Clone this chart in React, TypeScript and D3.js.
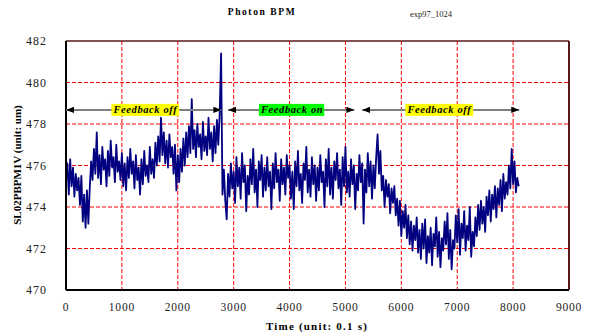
//@ts-nocheck
import React, {useEffect, useRef} from 'react';
import * as d3 from 'd3';

// sampling interval of the trace (unit: 0.1 s)
const sampleStep = 25;

// SL02PBPM1V readings, every 25 time units from t = 0
const bpmValues = [
    475.2, 476.1, 474.6, 476.3, 475.0, 475.9, 474.5, 475.6, 474.8, 475.4, 474.1, 475.5, 473.3, 474.6, 473.0, 474.8,
    473.2, 474.9, 476.2, 475.3, 476.8, 475.6, 477.6, 475.4, 476.5, 475.1, 476.9, 475.8, 476.3, 475.0, 476.7, 475.5,
    477.2, 475.9, 476.4, 475.2, 477.0, 475.7, 476.2, 475.3, 476.6, 475.0, 476.1, 474.8, 476.4, 475.4, 476.8, 475.6,
    476.2, 474.9, 476.5, 475.3, 475.9, 474.6, 476.3, 475.1, 476.7, 475.5, 476.0, 475.2, 476.9, 475.6, 476.3, 475.4,
    477.1, 476.0, 477.4, 476.2, 478.3, 476.5, 477.6, 476.1, 477.2, 475.9, 477.5, 476.4, 476.9, 475.6, 477.0, 474.8,
    476.5, 475.2, 476.8, 475.7, 477.3, 476.0, 477.6, 476.4, 477.9, 476.6, 479.2, 476.8, 477.7, 476.4, 478.0, 476.9,
    477.5, 476.3, 478.1, 476.7, 477.4, 476.5, 478.3, 476.8, 477.6, 476.2, 477.9, 476.6, 478.2, 477.0, 478.5, 481.4,
    474.6, 475.8, 474.3, 473.4, 475.6, 474.5, 476.1, 474.9, 475.7, 474.2, 476.4, 475.0, 475.9, 474.4, 476.6, 475.2,
    476.0, 473.8, 475.5, 474.6, 476.3, 475.1, 476.8, 474.7, 475.8, 474.0, 476.2, 475.3, 476.5, 474.5, 475.9, 474.8,
    476.4, 475.0, 475.7, 473.9, 476.1, 474.9, 476.6, 475.2, 475.8, 474.3, 476.3, 475.1, 475.9, 474.6, 476.5, 475.4,
    476.0, 474.4, 475.7, 473.9, 476.2, 475.0, 476.7, 474.8, 475.6, 474.2, 476.1, 475.3, 476.9, 474.7, 475.8, 474.5,
    476.4, 475.1, 476.0, 474.3, 475.9, 474.8, 476.5, 475.2, 475.7, 474.0, 476.3, 475.0, 476.8, 474.6, 475.9, 474.4,
    476.2, 475.3, 476.6, 474.9, 475.8, 474.1, 476.4, 475.0, 476.9, 474.7, 475.7, 474.5, 476.3, 475.1, 476.0, 473.9,
    475.6, 474.8, 476.5, 475.2, 476.1, 473.2, 475.8, 474.7, 476.6, 475.0, 476.2, 474.4, 476.0, 474.9, 476.4, 477.5,
    475.6, 476.7, 474.8, 475.5, 474.0, 475.3, 474.5, 475.1, 473.7, 474.9, 474.2, 475.0, 473.6, 474.4, 473.1, 474.3,
    472.6, 473.8, 473.0, 474.1, 472.5, 473.6, 472.2, 473.3, 471.9, 473.1, 472.4, 473.5, 471.8, 472.9, 471.5, 473.2,
    472.0, 473.4, 471.3, 472.6, 471.8, 473.0, 471.2, 472.7, 472.1, 473.5, 471.6, 472.8, 471.1, 472.5, 471.9, 473.3,
    472.2, 473.7, 471.5, 472.9, 471.0, 472.4, 472.0, 473.6, 472.3, 473.9, 471.7, 473.2, 472.5, 473.8, 471.9, 473.1,
    472.4, 474.0, 471.6, 472.8, 472.1, 473.5, 472.6, 474.1, 472.9, 474.3, 473.2, 474.0, 472.8, 474.5, 473.6, 474.8,
    473.3, 474.6, 473.9, 475.0, 473.5, 474.9, 474.1, 475.3, 473.8, 475.6, 474.4, 475.2, 474.6, 476.0, 474.9, 476.8,
    475.1, 476.2, 474.7, 475.4, 475.0
];

const xTicks = [0, 1000, 2000, 3000, 4000, 5000, 6000, 7000, 8000, 9000];
const yTicks = [470, 472, 474, 476, 478, 480, 482];

// feedback periods: start / end time, label position and colour
const periodStarts = [0, 2900, 5300];
const periodEnds = [2780, 5160, 8110];
const periodLabels = ['Feedback off', 'Feedback on', 'Feedback off'];
const periodLabelAt = [1420, 4045, 6680];
const periodColors = ['#ffff00', '#00ff00', '#ffff00'];
const annotationLevel = 478.68;

const PhotonBpmChart = () => {
    const svgRef = useRef(null);

    useEffect(() => {
        const svg = d3.select(svgRef.current);
        svg.selectAll('*').remove();

        const margin = {top: 41, right: 23, bottom: 46, left: 66};
        const width = 592 - margin.left - margin.right;
        const height = 336 - margin.top - margin.bottom;

        const x = d3.scaleLinear().domain([0, 9000]).range([0, width]);
        const y = d3.scaleLinear().domain([470, 482]).range([height, 0]);

        svg.append('rect').attr('width', 592).attr('height', 336).attr('fill', '#fff');

        svg.append('text')
            .attr('x', 262).attr('y', 15)
            .attr('text-anchor', 'middle')
            .attr('font-family', '"Liberation Serif", serif')
            .attr('font-weight', 'bold')
            .attr('font-size', '9.5px')
            .attr('letter-spacing', '1.6px')
            .text('Photon BPM');

        svg.append('text')
            .attr('x', 410).attr('y', 17)
            .attr('font-family', '"Liberation Serif", serif')
            .attr('font-size', '8.5px')
            .attr('fill', '#222')
            .text('exp97_1024');

        const g = svg.append('g')
            .attr('transform', 'translate(' + margin.left + ',' + margin.top + ')');

        // grid
        g.selectAll('line.hgrid')
            .data(yTicks.slice(1, -1))
            .enter().append('line')
            .attr('x1', 0).attr('x2', width)
            .attr('y1', d => y(d)).attr('y2', d => y(d))
            .attr('stroke', '#ff0000')
            .attr('stroke-dasharray', '4,2');
        g.selectAll('line.vgrid')
            .data(xTicks.slice(1, -1))
            .enter().append('line')
            .attr('y1', 0).attr('y2', height)
            .attr('x1', d => x(d)).attr('x2', d => x(d))
            .attr('stroke', '#ff0000')
            .attr('stroke-dasharray', '4,2');

        // frame
        g.append('line').attr('x1', 0).attr('x2', width).attr('y1', 0).attr('y2', 0)
            .attr('stroke', '#5a1a1a').attr('stroke-width', 1.5);
        g.append('line').attr('x1', width).attr('x2', width).attr('y1', 0).attr('y2', height)
            .attr('stroke', '#5a1a1a').attr('stroke-width', 2);

        // trace
        const line = d3.line()
            .x((d, i) => x(i * sampleStep))
            .y(d => y(d));
        g.append('path')
            .datum(bpmValues)
            .attr('fill', 'none')
            .attr('stroke', '#000080')
            .attr('stroke-width', 1.8)
            .attr('stroke-linejoin', 'round')
            .attr('d', line);

        // left / bottom axes
        g.append('line').attr('x1', 0).attr('x2', 0).attr('y1', 0).attr('y2', height)
            .attr('stroke', '#000').attr('stroke-width', 2);
        g.append('line').attr('x1', 0).attr('x2', width).attr('y1', height).attr('y2', height)
            .attr('stroke', '#000').attr('stroke-width', 2);

        g.selectAll('text.ytick')
            .data(yTicks)
            .enter().append('text')
            .attr('x', -19)
            .attr('y', d => y(d))
            .attr('dy', '0.35em')
            .attr('text-anchor', 'end')
            .attr('font-family', '"Liberation Serif", serif')
            .attr('font-size', '12px')
            .attr('letter-spacing', '1px')
            .attr('fill', '#222')
            .text(d => d);

        g.selectAll('text.xtick')
            .data(xTicks)
            .enter().append('text')
            .attr('x', d => x(d))
            .attr('y', height + 21)
            .attr('text-anchor', 'middle')
            .attr('font-family', '"Liberation Serif", serif')
            .attr('font-size', '11.5px')
            .attr('letter-spacing', '0.8px')
            .attr('fill', '#222')
            .text(d => d);

        svg.append('text')
            .attr('x', 317).attr('y', 330)
            .attr('text-anchor', 'middle')
            .attr('font-family', '"Liberation Serif", serif')
            .attr('font-weight', 'bold')
            .attr('font-size', '11px')
            .attr('letter-spacing', '1.2px')
            .text('Time (unit: 0.1 s)');

        svg.append('text')
            .attr('transform', 'translate(21,165)rotate(-90)')
            .attr('text-anchor', 'middle')
            .attr('font-family', '"Liberation Serif", serif')
            .attr('font-weight', 'bold')
            .attr('font-size', '11px')
            .text('SL02PBPM1V (unit: um)');

        // feedback annotation arrows
        const defs = svg.append('defs');
        defs.append('marker')
            .attr('id', 'arrowEnd')
            .attr('viewBox', '0 0 10 10')
            .attr('refX', 10).attr('refY', 5)
            .attr('markerWidth', 4).attr('markerHeight', 4)
            .attr('markerUnits', 'strokeWidth')
            .attr('orient', 'auto-start-reverse')
            .append('path').attr('d', 'M0,1L10,5L0,9Z').attr('fill', '#000');

        const ay = y(annotationLevel);
        const periods = periodStarts.map((s, i) => ({
            start: s, end: periodEnds[i], label: periodLabels[i], at: periodLabelAt[i], color: periodColors[i]
        }));
        g.selectAll('line.period')
            .data(periods)
            .enter().append('line')
            .attr('x1', d => x(d.start)).attr('x2', d => x(d.end))
            .attr('y1', ay).attr('y2', ay)
            .attr('stroke', '#7f7f7f')
            .attr('stroke-width', 2)
            .attr('marker-start', 'url(#arrowEnd)')
            .attr('marker-end', 'url(#arrowEnd)');

        const labels = g.selectAll('g.plabel')
            .data(periods)
            .enter().append('g')
            .attr('transform', d => 'translate(' + x(d.at) + ',' + ay + ')');
        labels.append('text')
            .attr('text-anchor', 'middle')
            .attr('dy', '0.33em')
            .attr('font-family', '"Liberation Serif", serif')
            .attr('font-weight', 'bold')
            .attr('font-style', 'italic')
            .attr('font-size', '10.5px')
            .attr('letter-spacing', '0.6px')
            .text(d => d.label)
            .each(function (d) {
                const b = this.getBBox();
                d3.select(this.parentNode).insert('rect', 'text')
                    .attr('x', b.x - 1).attr('y', -6)
                    .attr('width', b.width + 2).attr('height', 12)
                    .attr('fill', d.color);
            });
    }, []);

    return (
        <svg ref={svgRef} width={592} height={336} style={{display: 'block'}}/>
    );
};

export default function App() {
    return (
        <div style={{position: 'fixed', left: 0, top: 0}}>
            <PhotonBpmChart/>
        </div>
    );
}
